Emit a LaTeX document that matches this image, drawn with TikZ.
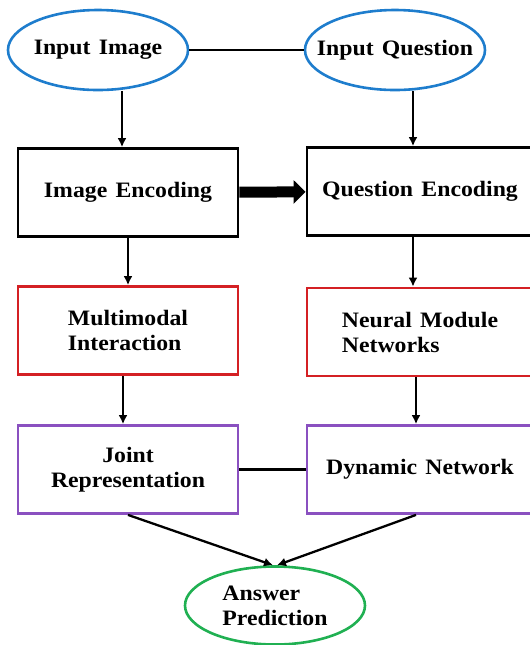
\documentclass[tikz,border=0pt]{standalone}
\usepackage{fontspec}
\setmainfont{Liberation Serif}[FakeStretch=1.08, WordSpace=1.4]
\usepackage{tikz}
\usetikzlibrary{arrows.meta, positioning, shapes.geometric}

\definecolor{ovalblue}{RGB}{30,125,205}
\definecolor{boxred}{RGB}{212,32,36}
\definecolor{boxpurple}{RGB}{138,80,192}
\definecolor{ovalgreen}{RGB}{32,176,82}

\begin{document}
\begin{tikzpicture}[x=0.5pt, y=-0.5pt,
    every node/.style={font=\fontsize{11}{12.5}\selectfont\bfseries},
    oval/.style={ellipse, draw=#1, line width=1.3pt, minimum width=90pt, minimum height=40pt, inner sep=0pt},
    stage/.style={rectangle, draw=#1, line width=1.4pt, minimum height=44pt, inner sep=2pt},
    arr/.style={line width=1.15pt, -{Latex[length=4.5pt,width=4.5pt]}},
    link/.style={line width=1.15pt}]
    \useasboundingbox (0,0) rectangle (530,645);
    % inputs
    \node[oval=ovalblue] (img) at (98,50) {\makebox[0pt]{Input Image}};
    \node[oval=ovalblue] (qst) at (395,50) {\makebox[0pt]{Input Question}};
    % encoders
    \node[stage=black, minimum width=110pt] (ienc) at (128,192.5) {Image Encoding};
    \node[stage=black, minimum width=113pt] (qenc) at (420,191.5) {Question Encoding};
    % second row
    \node[stage=boxred, minimum width=110pt, align=left] (mmi) at (128,330.5) {Multimodal\\Interaction};
    \node[stage=boxred, minimum width=113pt, align=left] (nmn) at (420,332) {Neural Module\\Networks};
    % third row
    \node[stage=boxpurple, minimum width=110pt, align=center] (joint) at (128,469.5) {Joint\\Representation};
    \node[stage=boxpurple, minimum width=113pt] (dyn) at (420,469.5) {Dynamic Network};
    % output
    \node[oval=ovalgreen, minimum height=39pt, align=left] (ans) at (275,605.5) {Answer\\Prediction};

    \draw[link] (img) -- (qst);
    \draw[link] (joint) -- (dyn);
    \draw[arr] ([xshift=12pt]img.south) -- ([xshift=12pt]img.south |- ienc.north);
    \draw[arr] ([xshift=9pt]qst.south) -- ([xshift=9pt]qst.south |- qenc.north);
    \draw[line width=5.5pt, -{Triangle[length=6pt,width=11.5pt]}] (ienc) -- (qenc);
    \draw[arr] (ienc) -- (mmi);
    \draw[arr] ([xshift=-3.5pt]qenc.south) -- ([xshift=-3.5pt]nmn.north);
    \draw[arr] ([xshift=-2.5pt]mmi.south) -- ([xshift=-2.5pt]joint.north);
    \draw[arr] ([xshift=-2pt]nmn.south) -- ([xshift=-2pt]dyn.north);
    \draw[arr] (joint.south) -- ([xshift=-1pt]ans.north);
    \draw[arr] ([xshift=-2pt]dyn.south) -- ([xshift=1pt]ans.north);
\end{tikzpicture}
\end{document}
